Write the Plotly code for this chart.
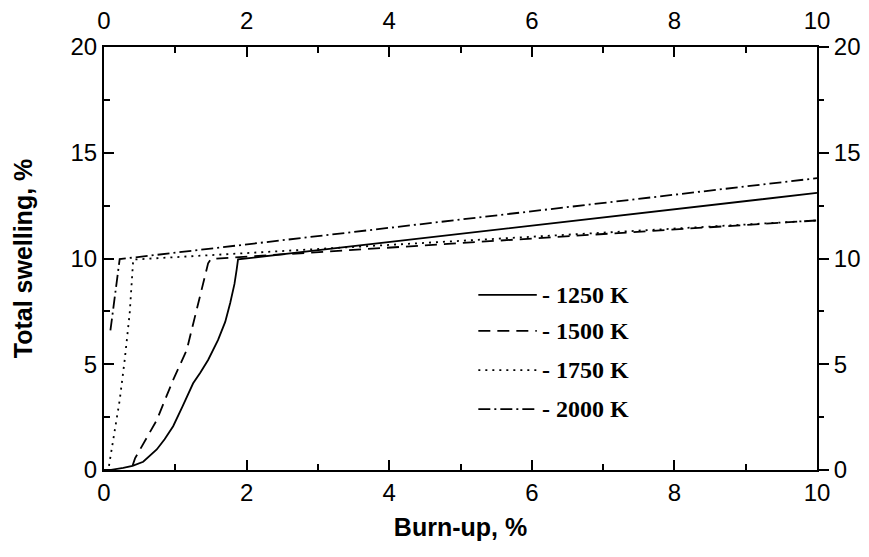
import plotly.graph_objects as go

# ---- data ----
series_names = ["- 1250 K", "- 1500 K", "- 1750 K", "- 2000 K"]

x_1250 = [0.0, 0.1, 0.27, 0.4, 0.55, 0.74, 0.85, 0.97, 1.1, 1.25, 1.35, 1.46, 1.6, 1.7, 1.77, 1.83, 1.86, 1.88, 10.0]
y_1250 = [0.0, 0.01, 0.1, 0.2, 0.39, 0.97, 1.45, 2.07, 3.0, 4.1, 4.6, 5.2, 6.15, 7.0, 7.9, 8.8, 9.46, 9.96, 13.1]

x_1500 = [0.4, 0.435, 0.74, 0.97, 1.16, 1.30, 1.46, 1.50, 10.0]
y_1500 = [0.2, 0.55, 2.36, 4.26, 5.67, 7.57, 9.77, 9.98, 11.8]

x_1750 = [0.07, 0.10, 0.22, 0.29, 0.36, 0.41, 10.0]
y_1750 = [0.2, 0.8, 3.3, 5.2, 7.4, 9.95, 11.8]

x_2000 = [0.09, 0.22, 10.0]
y_2000 = [6.6, 9.97, 13.8]

x_ticks = [0, 2, 4, 6, 8, 10]
y_ticks = [0, 5, 10, 15, 20]

dashes = ["solid", "12px,7px", "2px,5px", "12px,4px,2px,4px"]
xs = [x_1250, x_1500, x_1750, x_2000]
ys = [y_1250, y_1500, y_1750, y_2000]

fig = go.Figure()
for name, xv, yv, d in zip(series_names, xs, ys, dashes):
    fig.add_trace(go.Scatter(x=xv, y=yv, mode="lines", name=name,
                             line=dict(color="black", width=1.8, dash=d, shape="linear"),
                             showlegend=False))
# empty trace so the secondary (top/right) axes are drawn
fig.add_trace(go.Scatter(x=[], y=[], xaxis="x2", yaxis="y2", showlegend=False))

tick_font = dict(family="Liberation Sans, Arial", size=24, color="black")
title_font = dict(family="Liberation Sans, Arial", size=25, color="black")

common_x = dict(range=[0, 10], tickvals=x_ticks, showgrid=False, zeroline=False,
                showline=True, linewidth=2, linecolor="black",
                tickwidth=2, tickcolor="black", tickfont=tick_font)
common_y = dict(range=[0, 20], tickvals=y_ticks, showgrid=False, zeroline=False,
                showline=True, linewidth=2, linecolor="black",
                tickwidth=2, tickcolor="black", tickfont=tick_font)

fig.update_layout(
    width=869, height=557,
    margin=dict(l=104, r=52, t=47, b=87, autoexpand=False),
    paper_bgcolor="white", plot_bgcolor="white",
    xaxis=dict(**common_x, ticks="inside", ticklen=10,
               minor=dict(dtick=1, ticks="inside", ticklen=6, tickwidth=2, tickcolor="black"),
               title=dict(text="<b>Burn-up, %</b>", font=title_font, standoff=14)),
    xaxis2=dict(**common_x, ticks="inside", ticklen=10, overlaying="x", side="top", anchor="y",
                ticklabelstandoff=6,
                minor=dict(dtick=1, ticks="inside", ticklen=6, tickwidth=2, tickcolor="black")),
    yaxis=dict(**common_y, ticks="inside", ticklen=10,
               minor=dict(dtick=2.5, ticks="inside", ticklen=6, tickwidth=2, tickcolor="black"),
               title=dict(text="<b>Total swelling, %</b>", font=title_font, standoff=31)),
    yaxis2=dict(**common_y, ticks="outside", ticklen=10, overlaying="y", side="right", anchor="x",
                minor=dict(dtick=2.5, ticks="outside", ticklen=5, tickwidth=2, tickcolor="black")),
)

# legend drawn manually (sample line + label)
leg_y = [0.414, 0.329, 0.236, 0.144]
for name, d, ly in zip(series_names, dashes, leg_y):
    fig.add_shape(type="line", xref="paper", yref="paper", x0=0.525, x1=0.607, y0=ly, y1=ly,
                  line=dict(color="black", width=1.8, dash=d))
    fig.add_annotation(xref="paper", yref="paper", x=0.611, y=ly, xanchor="left", yanchor="middle",
                       text="<b>" + name + "</b>", showarrow=False,
                       font=dict(family="Liberation Serif, Times New Roman", size=24, color="black"))

fig.write_html("out.html", config={"displayModeBar": False},
               post_script="document.body.style.margin='0';")
